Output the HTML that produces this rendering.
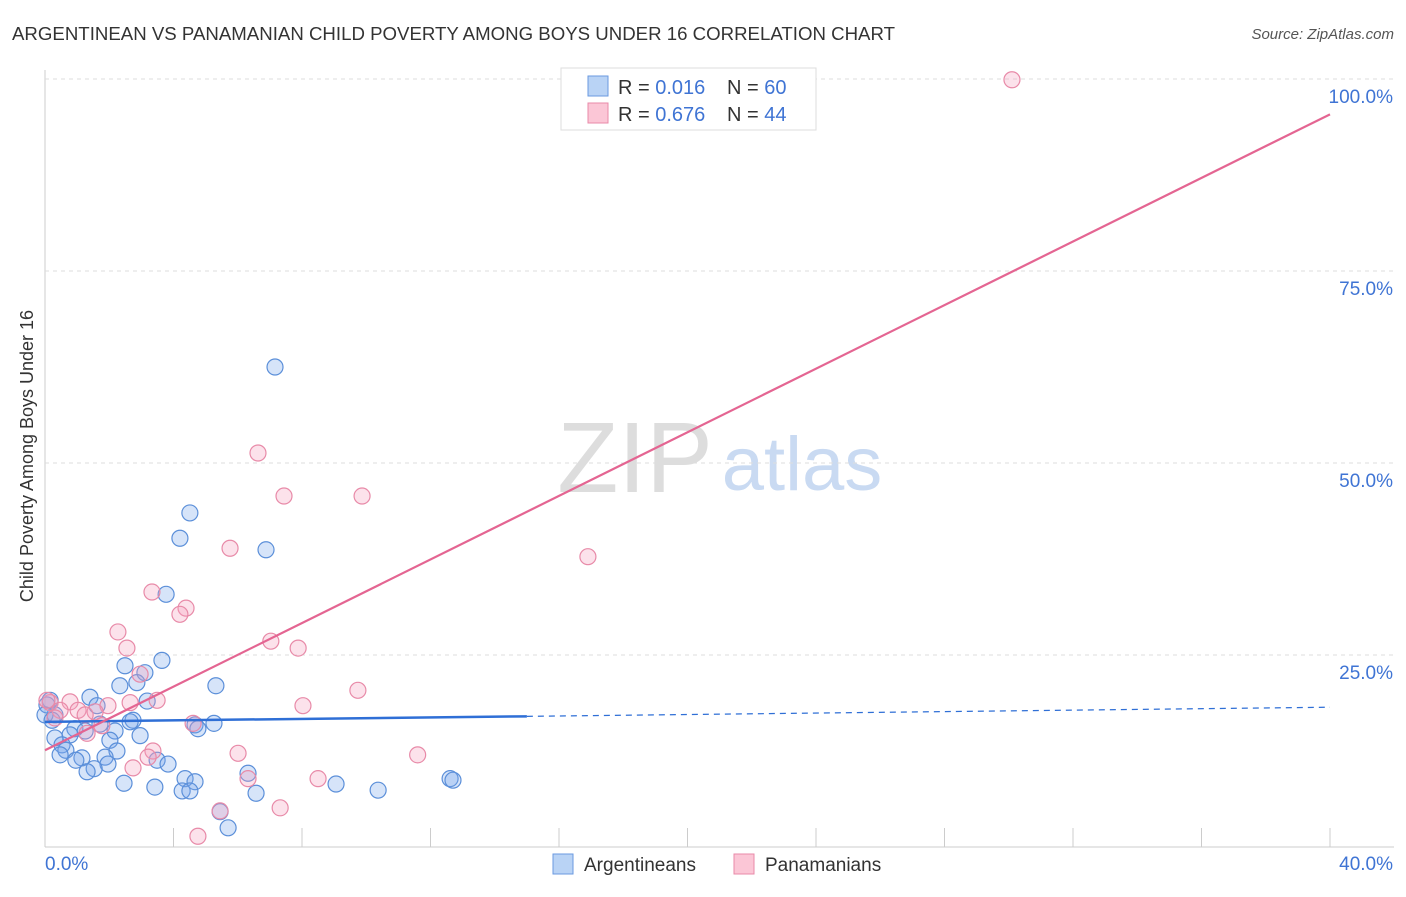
<!DOCTYPE html>
<html><head><meta charset="utf-8"><style>
body{margin:0;background:#fff;font-family:"Liberation Sans",sans-serif}
svg text{font-family:"Liberation Sans",sans-serif}
</style></head><body>
<svg id="c" width="1406" height="892">
<text x="12" y="40" font-size="18" fill="#333" textLength="883" lengthAdjust="spacingAndGlyphs">ARGENTINEAN VS PANAMANIAN CHILD POVERTY AMONG BOYS UNDER 16 CORRELATION CHART</text>
<text x="1394" y="39" font-size="15" fill="#555" font-style="italic" text-anchor="end">Source: ZipAtlas.com</text>
<text x="33" y="456" font-size="18" fill="#333" text-anchor="middle" transform="rotate(-90 33 456)">Child Poverty Among Boys Under 16</text>
<g><text x="635" y="492" font-size="100" fill="#ddd" font-family="Liberation Serif" text-anchor="middle">ZIP</text><text x="802" y="490" font-size="76" fill="#c9daf2" text-anchor="middle">atlas</text></g>
<g id="grid"></g><g id="pts"></g><g id="lines"></g>
<g>
<rect x="561" y="68" width="255" height="62" fill="#fff" stroke="#ddd"/>
<rect x="588" y="76" width="20" height="20" fill="#b9d3f5" stroke="#6a9ae0"/>
<rect x="588" y="103" width="20" height="20" fill="#fbc6d6" stroke="#e88aa8"/>
<text x="618" y="94" font-size="20" fill="#333">R = <tspan fill="#3f74d4">0.016</tspan></text><text x="727" y="94" font-size="20" fill="#333">N = <tspan fill="#3f74d4">60</tspan></text>
<text x="618" y="121" font-size="20" fill="#333">R = <tspan fill="#3f74d4">0.676</tspan></text><text x="727" y="121" font-size="20" fill="#333">N = <tspan fill="#3f74d4">44</tspan></text>
</g>
<g>
<rect x="553" y="854" width="20" height="20" fill="#b9d3f5" stroke="#6a9ae0"/>
<text x="584" y="871" font-size="19" fill="#333">Argentineans</text>
<rect x="734" y="854" width="20" height="20" fill="#fbc6d6" stroke="#e88aa8"/>
<text x="765" y="871" font-size="19" fill="#333">Panamanians</text>
</g>
</svg>
<script>
const yTicks=[25,50,75,100];
const yTickLabels=["25.0%","50.0%","75.0%","100.0%"];
const xTickVals=[0,4,8,12,16,20,24,28,32,36,40];
const blueX=[7.16,4.51,4.2,6.88,3.77,3.64,2.49,5.32,3.11,2.86,2.33,1.4,3.18,1.62,0.16,0.31,2.74,2.65,1.71,4.67,5.26,4.76,0.93,2.18,1.25,0.78,0.31,2.96,2.02,0.53,0.65,2.24,0.47,1.87,1.15,0.96,3.49,3.83,1.96,1.53,1.31,6.32,4.36,4.67,2.46,9.06,12.61,12.7,3.42,4.27,4.51,6.57,10.37,5.45,5.7,0.06,0,0.22];
const blueY=[62.5,43.5,40.2,38.7,32.9,24.3,23.6,21,22.7,21.4,21,19.5,19,18.4,19.1,17.2,16.5,16.3,16,15.9,16.1,15.4,15.4,15.1,15.1,14.6,14.2,14.5,13.9,13.3,12.6,12.5,12,11.7,11.6,11.3,11.3,10.8,10.8,10.2,9.8,9.6,8.9,8.5,8.3,8.2,8.9,8.7,7.8,7.3,7.3,7,7.4,4.6,2.5,18.5,17.2,16.5];
const pinkX=[30.1,6.63,7.44,9.87,5.76,16.9,3.33,4.39,4.2,2.27,7.03,2.55,7.88,2.96,9.74,3.49,2.65,0.78,8.03,1.96,0.16,0.47,1.03,1.56,1.25,0.31,4.61,1.77,1.31,6.01,3.36,3.21,11.6,2.74,8.5,6.32,5.45,7.32,4.76,0.06];
const pinkY=[99.9,51.3,45.7,45.7,38.9,37.8,33.2,31.1,30.3,28,26.8,25.9,25.9,22.5,20.4,19.1,18.8,18.9,18.4,18.4,18.8,17.8,17.8,17.6,17.2,16.8,16.1,15.8,14.8,12.2,12.5,11.7,12,10.3,8.9,8.9,4.7,5.1,1.4,19.1];
const blueTrend=[16.3,18.2];
const pinkTrend=[12.6,95.4];
const NS="http://www.w3.org/2000/svg";
const X=v=>45+v*32.125, Y=v=>847-v*7.68;
function mk(p,t,a){const e=document.createElementNS(NS,t);for(const k in a)e.setAttribute(k,a[k]);p.appendChild(e);return e;}
const g=document.getElementById('grid');
mk(g,'line',{x1:45,y1:70,x2:45,y2:847,stroke:'#ccc'});
mk(g,'line',{x1:45,y1:847,x2:1394,y2:847,stroke:'#ccc'});
yTicks.forEach((t,i)=>{const l=mk(g,'line',{x1:45,x2:1394,y1:Y(t),y2:Y(t),stroke:'#ddd','stroke-dasharray':'4 4'});

const tx=mk(g,'text',{x:1393,y:Y(t)+24,'font-size':19,fill:'#3f74d4','text-anchor':'end'});tx.textContent=yTickLabels[i];
});
xTickVals.forEach(v=>{const l=mk(g,'line',{x1:X(v),x2:X(v),y1:828,y2:847,stroke:'#ccc'});
});
let t0=mk(g,'text',{x:45,y:870,'font-size':19,fill:'#3f74d4'});t0.textContent='0.0%';

let t1=mk(g,'text',{x:1393,y:870,'font-size':19,fill:'#3f74d4','text-anchor':'end'});t1.textContent='40.0%';

const p=document.getElementById('pts');
blueX.forEach((x,i)=>{const c=mk(p,'circle',{cx:X(x),cy:Y(blueY[i]),r:8,fill:'rgba(120,165,235,0.3)',stroke:'#5b8fd9','stroke-width':1.2});
});
pinkX.forEach((x,i)=>{const c=mk(p,'circle',{cx:X(x),cy:Y(pinkY[i]),r:8,fill:'rgba(245,160,190,0.3)',stroke:'#e88aa8','stroke-width':1.2});
});
const L=document.getElementById('lines');
const bx=15;const bmid=blueTrend[0]+(blueTrend[1]-blueTrend[0])*bx/40;
let a=mk(L,'line',{x1:X(0),y1:Y(blueTrend[0]),x2:X(bx),y2:Y(bmid),stroke:'#2f6fd6','stroke-width':2.5});

let b=mk(L,'line',{x1:X(bx),y1:Y(bmid),x2:X(40),y2:Y(blueTrend[1]),stroke:'#2f6fd6','stroke-width':1.2,'stroke-dasharray':'6 5'});

let c=mk(L,'line',{x1:X(0),y1:Y(pinkTrend[0]),x2:X(40),y2:Y(pinkTrend[1]),stroke:'#e46592','stroke-width':2.2});

</script>
</body></html>
